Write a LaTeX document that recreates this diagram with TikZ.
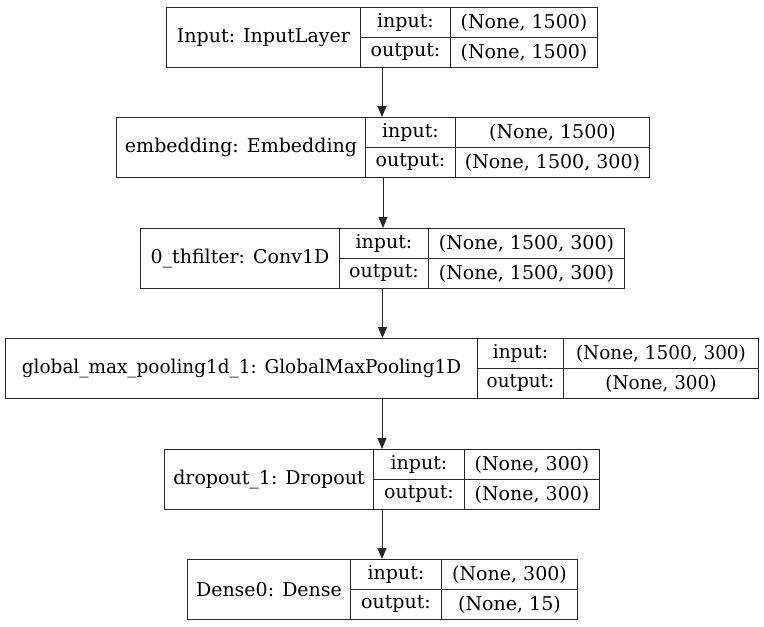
\documentclass[tikz,border=0pt]{standalone}
\usepackage{fontspec}
\setmainfont{DejaVu Serif}
\usetikzlibrary{arrows.meta}

\begin{document}
\begin{tikzpicture}[x=1pt,y=1pt,
  cell/.style={draw=black!85,line width=1pt,inner sep=0pt,anchor=north west,font=\fontsize{19}{23}\selectfont},
  flow/.style={-{Triangle[width=9pt,length=11pt]},line width=1pt,black!85}]
\useasboundingbox (0,0) rectangle (764,-627);
\foreach \id/\lbl/\xa/\xb/\xc/\xd/\yt/\vin/\vout/\sx in {
  inp/{Input: InputLayer}/166/360/450/597/7/{(None, 1500)}/{(None, 1500)}/1,
  emb/{embedding: Embedding}/116/365/455/649/117/{(None, 1500)}/{(None, 1500, 300)}/1,
  conv/{0\_thfilter: Conv1D}/140/339/428/624/228/{(None, 1500, 300)}/{(None, 1500, 300)}/1,
  gmp/{global\_max\_pooling1d\_1: GlobalMaxPooling1D}/5/477/563/758/338/{(None, 1500, 300)}/{(None, 300)}/0.97,
  drop/{dropout\_1: Dropout}/164/373/464/599/449/{(None, 300)}/{(None, 300)}/1,
  dense/{Dense0: Dense}/187/350/441/577/559/{(None, 300)}/{(None, 15)}/1}{
  \node[cell,minimum width={\xd-\xa},minimum height=60] (\id) at (\xa,-\yt) {};
  \node[cell,minimum width={\xb-\xa},minimum height=60] (\id-n) at (\xa,-\yt) {\scalebox{\sx}[1]{\lbl}};
  \node[cell,minimum width={\xc-\xb},minimum height=30] (\id-pi) at (\xb,-\yt) {\scalebox{\sx}[1]{input:}};
  \node[cell,minimum width={\xc-\xb},minimum height=30] (\id-po) at (\xb,-\yt-30) {\scalebox{\sx}[1]{output:}};
  \node[cell,minimum width={\xd-\xc},minimum height=30] (\id-vi) at (\xc,-\yt) {\scalebox{\sx}[1]{\vin}};
  \node[cell,minimum width={\xd-\xc},minimum height=30] (\id-vo) at (\xc,-\yt-30) {\scalebox{\sx}[1]{\vout}};
}
\draw[flow] (inp.south) -- (inp.south |- emb.north);
\draw[flow] (emb.south) -- (emb.south |- conv.north);
\draw[flow] (conv.south) -- (conv.south |- gmp.north);
\draw[flow] (gmp.south) -- (gmp.south |- drop.north);
\draw[flow] (drop.south) -- (drop.south |- dense.north);
\end{tikzpicture}
\end{document}
